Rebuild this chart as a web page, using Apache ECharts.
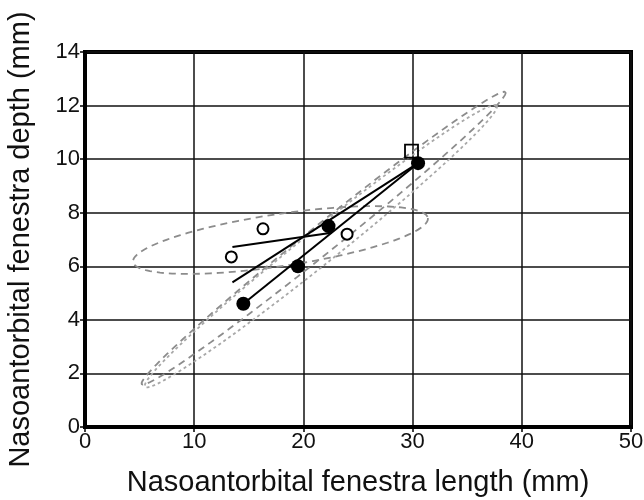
<!DOCTYPE html>
<html><head><meta charset="utf-8">
<script src="https://cdn.jsdelivr.net/npm/echarts@6/dist/echarts.min.js"></script>
<style>html,body{margin:0;padding:0;background:#fff}#c{width:644px;height:500px}</style>
</head><body><div id="c"></div>
<script>
// ---- data ----
var xTicks = [0, 10, 20, 30, 40, 50];
var yTicks = [0, 2, 4, 6, 8, 10, 12, 14];
var filledPts = [[14.5, 4.6], [19.5, 6.0], [22.3, 7.5], [30.5, 9.85]];
var openPts = [[13.4, 6.35], [16.3, 7.4], [24.0, 7.2]];
var squarePts = [[29.9, 10.3]];
var lineA = [[13.5, 6.72], [22.6, 7.25]];
var lineB = [[13.5, 5.4], [30.5, 9.85]];
var lineC = [[14.5, 4.6], [30.5, 9.85]];
// ellipses: [centerX, centerY, majorEndX, majorEndY, minor/major ratio]
var ellipseWide = [[17.9, 6.98, 31.4, 7.8, 0.175]];
var ellipseDashed = [[21.85, 7.05, 38.5, 12.5, 0.06]];
var ellipseDotted = [[21.6, 6.75, 37.7, 12.0, 0.075]];

var chart = echarts.init(document.getElementById('c'), null, {renderer: 'canvas'});
var FONT = 'Liberation Sans';

function ellipseRender(dash, color) {
  return function (params, api) {
    var c = api.coord([api.value(0), api.value(1)]);
    var e = api.coord([api.value(2), api.value(3)]);
    var ratio = api.value(4);
    var ux = e[0] - c[0], uy = e[1] - c[1];
    var vx = -uy * ratio, vy = ux * ratio;
    var pts = [];
    for (var i = 0; i <= 96; i++) {
      var t = i / 96 * Math.PI * 2;
      pts.push([c[0] + ux * Math.cos(t) + vx * Math.sin(t), c[1] + uy * Math.cos(t) + vy * Math.sin(t)]);
    }
    return {
      type: 'polyline',
      shape: {points: pts},
      style: {stroke: color, fill: null, lineWidth: 1.8, lineDash: dash}
    };
  };
}

function lineSeries(d) {
  return {type: 'line', data: d, symbol: 'none', z: 3,
    lineStyle: {color: '#000', width: 2}, animation: false, silent: true};
}

chart.setOption({
  animation: false,
  backgroundColor: '#fff',
  grid: {left: 85, right: 13, top: 52, bottom: 73, containLabel: false, outerBoundsMode: 'none',
    show: true, borderColor: '#000', borderWidth: 4, backgroundColor: 'transparent'},
  xAxis: {
    type: 'value', min: xTicks[0], max: xTicks[xTicks.length - 1], interval: 10,
    name: 'Nasoantorbital fenestra length (mm)', nameLocation: 'middle', nameGap: 41, nameMoveOverlap: false,
    nameTextStyle: {fontFamily: FONT, fontSize: 29, color: '#111'},
    axisLine: {show: true, lineStyle: {color: '#000', width: 4}},
    axisTick: {show: true, length: 5, lineStyle: {color: '#000', width: 1.5}},
    axisLabel: {fontFamily: FONT, fontSize: 22, color: '#111', margin: 4},
    splitLine: {show: true, lineStyle: {color: '#111', width: 1.5}}
  },
  yAxis: {
    type: 'value', min: yTicks[0], max: yTicks[yTicks.length - 1], interval: 2,
    name: 'Nasoantorbital fenestra depth (mm)', nameLocation: 'middle', nameGap: 50, nameMoveOverlap: false,
    nameTextStyle: {fontFamily: FONT, fontSize: 29, color: '#111'},
    axisLine: {show: true, lineStyle: {color: '#000', width: 4}},
    axisTick: {show: true, length: 5, lineStyle: {color: '#000', width: 1.5}},
    axisLabel: {fontFamily: FONT, fontSize: 22, color: '#111', margin: 5},
    splitLine: {show: true, lineStyle: {color: '#111', width: 1.5}}
  },
  series: [
    {type: 'custom', data: ellipseWide, renderItem: ellipseRender([7, 5], '#8c8c8c'), z: 2, silent: true},
    {type: 'custom', data: ellipseDashed, renderItem: ellipseRender([7, 5], '#8c8c8c'), z: 2, silent: true},
    {type: 'custom', data: ellipseDotted, renderItem: ellipseRender([3, 3], '#a8a8a8'), z: 2, silent: true},
    lineSeries(lineA), lineSeries(lineB), lineSeries(lineC),
    {type: 'scatter', data: filledPts, symbol: 'circle', symbolSize: 14, z: 5,
      itemStyle: {color: '#000', opacity: 1}},
    {type: 'scatter', data: openPts, symbol: 'circle', symbolSize: 11, z: 5,
      itemStyle: {color: '#fff', borderColor: '#000', borderWidth: 2, opacity: 1}},
    {type: 'scatter', data: squarePts, symbol: 'rect', symbolSize: 13, z: 4,
      itemStyle: {color: 'rgba(255,255,255,0)', borderColor: '#000', borderWidth: 1.8, opacity: 1}}
  ]
});
</script></body></html>
